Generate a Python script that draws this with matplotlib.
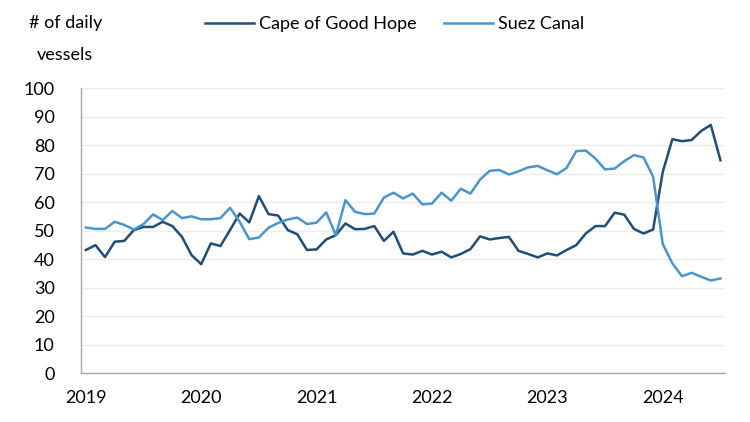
#!/usr/bin/env python

import numpy as np
from matplotlib import pyplot as plt

plt.rcParams['font.family'] = ['Lato', 'DejaVu Sans']

# monthly values, Jan 2019 .. Jul 2024
cape = [43.2, 44.9, 40.7, 46.1, 46.4, 50.2, 51.3, 51.3, 53.1, 51.6, 47.8, 41.4,
        38.2, 45.5, 44.6, 50.2, 56.0, 52.9, 62.1, 55.8, 55.3, 50.2, 48.7, 43.2,
        43.4, 46.9, 48.4, 52.5, 50.5, 50.6, 51.6, 46.4, 49.6, 42.0, 41.6, 42.9,
        41.6, 42.6, 40.6, 41.8, 43.5, 48.0, 46.9, 47.4, 47.8, 42.9, 41.8, 40.6,
        42.0, 41.3, 43.2, 44.9, 49.0, 51.6, 51.6, 56.3, 55.6, 50.6, 49.0, 50.4,
        70.6, 82.1, 81.4, 81.8, 85.0, 87.1, 74.7]
suez = [51.1, 50.6, 50.6, 53.1, 52.0, 50.4, 52.3, 55.7, 53.7, 56.9, 54.4, 55.0,
        54.0, 54.0, 54.4, 58.0, 53.1, 47.0, 47.6, 51.0, 52.7, 53.9, 54.6, 52.3,
        52.8, 56.4, 48.4, 60.7, 56.6, 55.8, 56.0, 61.6, 63.3, 61.3, 63.0, 59.2,
        59.5, 63.3, 60.5, 64.7, 63.0, 67.9, 71.0, 71.3, 69.7, 70.8, 72.2, 72.7,
        71.2, 69.8, 72.0, 77.9, 78.1, 75.3, 71.5, 71.8, 74.4, 76.5, 75.7, 68.9,
        45.3, 38.5, 34.0, 35.2, 33.8, 32.5, 33.2]
years = ['2019', '2020', '2021', '2022', '2023', '2024']

dark = '#1f4e79'
light = '#4a95cc'


def main():
    xidx = np.arange(len(cape))
    fig = plt.figure(figsize=(7.5, 4.22), dpi=100)
    ax = fig.add_axes([0.108, 0.116, 0.859, 0.675])

    ax.plot(xidx, cape, color=dark, lw=1.8, label='Cape of Good Hope')
    ax.plot(xidx, suez, color=light, lw=1.8, label='Suez Canal')

    ax.set_xlim(-0.5, len(cape) - 0.5)
    ax.set_ylim(0, 100)
    ax.set_yticks(np.arange(0, 101, 10))
    ax.set_xticks(np.arange(len(years)) * 12)
    ax.set_xticklabels(years)
    ax.grid(axis='y', color='#ececec', lw=1)
    ax.set_axisbelow(True)

    for s in ['top', 'right']:
        ax.spines[s].set_visible(False)
    for s in ['left', 'bottom']:
        ax.spines[s].set_color('#a6a6a6')
        ax.spines[s].set_linewidth(1)
    ax.tick_params(axis='both', length=0, labelsize=13, colors='#000000')
    ax.tick_params(axis='y', pad=19)
    ax.tick_params(axis='x', pad=12)

    fig.text(0.087, 0.965, '# of daily\nvessels', ha='center', va='top',
             fontsize=13, linespacing=2.25)

    ax.legend(loc='lower center', bbox_to_anchor=(0.487, 1.14), ncol=2,
              frameon=False, fontsize=13, handlelength=2.7,
              handletextpad=0.3, columnspacing=1.5)

    fig.savefig('out.png', dpi=100)


if __name__ == '__main__':
    main()
